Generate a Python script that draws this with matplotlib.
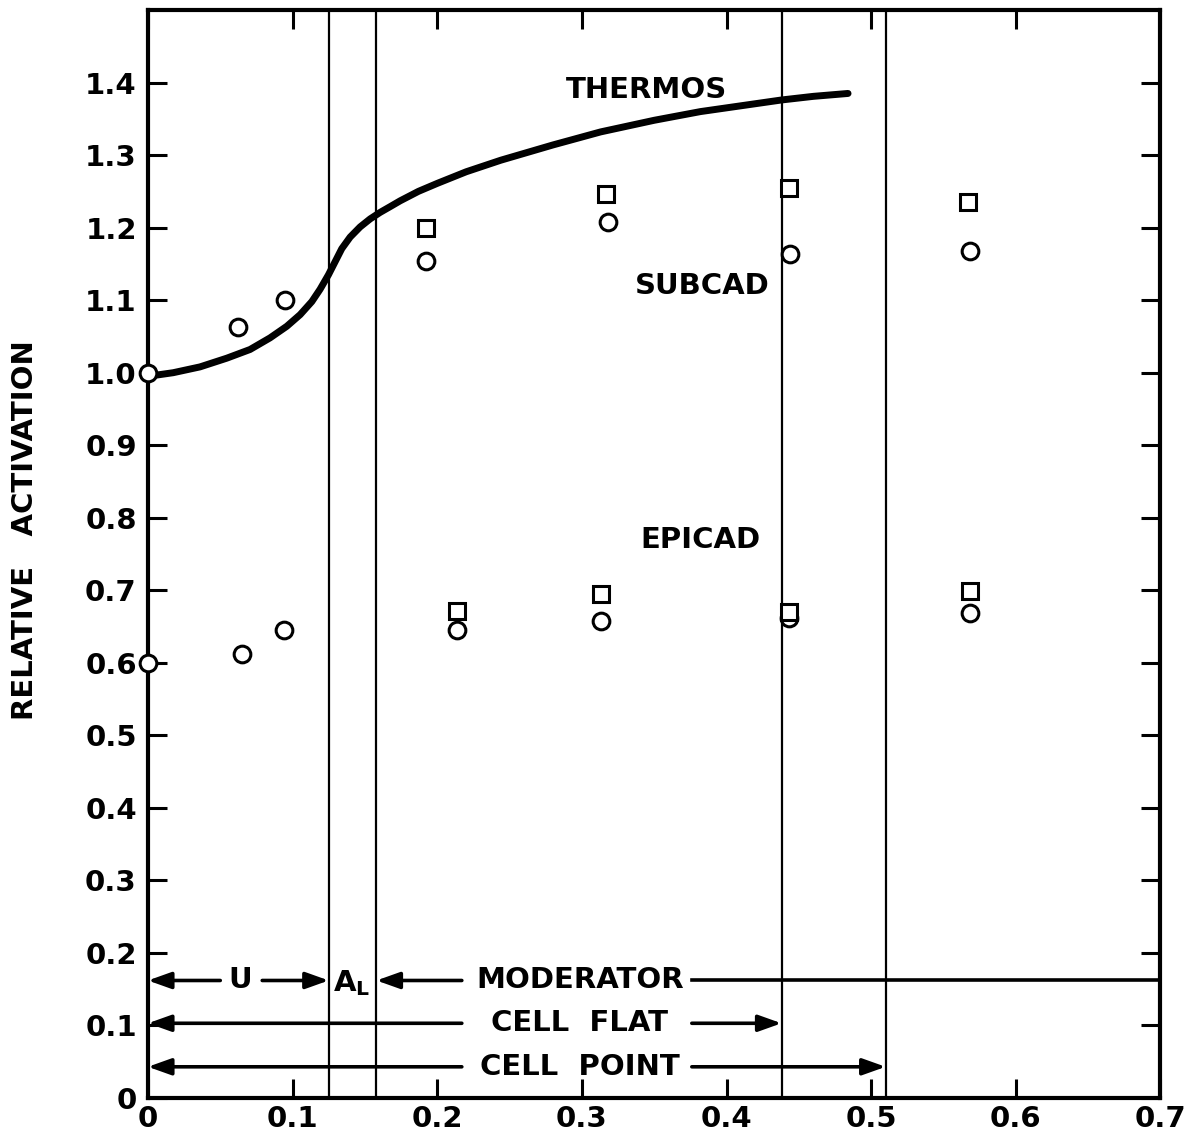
import matplotlib.pyplot as plt
import numpy as np

# THERMOS calculation
thermos_x = [0.0, 0.0175, 0.036, 0.0545, 0.0706, 0.0844, 0.096, 0.1052, 0.1133, 0.119,
             0.1248, 0.1294, 0.134, 0.1398, 0.1467, 0.1536, 0.1605, 0.1675, 0.1744,
             0.187, 0.200, 0.220, 0.244, 0.280, 0.313, 0.350, 0.382, 0.410, 0.438,
             0.460, 0.484]
thermos_y = [0.995, 1.000, 1.008, 1.020, 1.032, 1.048, 1.064, 1.080, 1.098, 1.115,
             1.135, 1.153, 1.171, 1.187, 1.201, 1.212, 1.221, 1.229, 1.237,
             1.250, 1.261, 1.277, 1.293, 1.314, 1.332, 1.348, 1.360, 1.368, 1.376,
             1.381, 1.385]

# subcadmium activation
sub_circ_x = [0.0, 0.062, 0.095, 0.192, 0.318, 0.444, 0.568]
sub_circ_y = [1.00, 1.063, 1.100, 1.154, 1.208, 1.163, 1.168]
sub_sq_x = [0.192, 0.317, 0.443, 0.567]
sub_sq_y = [1.200, 1.247, 1.255, 1.236]

# epicadmium activation
epi_circ_x = [0.0, 0.065, 0.094, 0.214, 0.313, 0.443, 0.568]
epi_circ_y = [0.600, 0.612, 0.645, 0.645, 0.657, 0.662, 0.668]
epi_sq_x = [0.214, 0.313, 0.443, 0.568]
epi_sq_y = [0.672, 0.695, 0.670, 0.699]

# region boundaries
boundaries = [0.125, 0.158, 0.438, 0.51]

xticks = [0, 0.1, 0.2, 0.3, 0.4, 0.5, 0.6, 0.7]
xtick_labels = ["0", "0.1", "0.2", "0.3", "0.4", "0.5", "0.6", "0.7"]
yticks = [0, 0.1, 0.2, 0.3, 0.4, 0.5, 0.6, 0.7, 0.8, 0.9, 1.0, 1.1, 1.2, 1.3, 1.4]
ytick_labels = ["0", "0.1", "0.2", "0.3", "0.4", "0.5", "0.6", "0.7", "0.8", "0.9",
                "1.0", "1.1", "1.2", "1.3", "1.4"]

plt.rcParams['font.family'] = ['DejaVu Sans']
plt.rcParams['font.weight'] = 'bold'

fig = plt.figure(figsize=(11.96, 11.41), dpi=100)
ax = fig.add_axes([0.1237, 0.0377, 0.8466, 0.9535])
ax.set_xlim(0, 0.7)
ax.set_ylim(0, 1.5)

for s in ax.spines.values():
    s.set_linewidth(3)

ax.set_xticks(xticks)
ax.set_xticklabels(xtick_labels)
ax.set_yticks(yticks)
ax.set_yticklabels(ytick_labels)
ax.tick_params(direction='in', length=14, width=2.2, labelsize=21, pad=8,
               top=True, right=True)
ax.tick_params(axis='x', pad=5)

# vertical region lines
for b in boundaries:
    ax.axvline(b, color='black', lw=1.6, zorder=1)

# THERMOS curve
ax.plot(thermos_x, thermos_y, color='black', lw=5, solid_capstyle='round',
        solid_joinstyle='round', zorder=2)

mk = dict(linestyle='none', markerfacecolor='white', markeredgecolor='black',
          markeredgewidth=2.2, zorder=4, clip_on=False)
ax.plot(sub_circ_x, sub_circ_y, marker='o', markersize=12, **mk)
ax.plot(epi_circ_x, epi_circ_y, marker='o', markersize=12, **mk)
ax.plot(sub_sq_x, sub_sq_y, marker='s', markersize=11, **mk)
ax.plot(epi_sq_x, epi_sq_y, marker='s', markersize=11, **mk)

tk = dict(fontsize=21, fontweight='bold', ha='center', va='center')
ax.text(0.345, 1.39, "THERMOS", **tk)
ax.text(0.383, 1.12, "SUBCAD", **tk)
ax.text(0.382, 0.77, "EPICAD", **tk)

# region arrows
arr = dict(arrowstyle='-|>,head_length=1.4,head_width=0.5', color='black',
           lw=2.6, shrinkA=0, shrinkB=0)
row1, row2, row3 = 0.162, 0.103, 0.043

ax.annotate("", xy=(0, row1), xytext=(0.05, row1), arrowprops=arr)
ax.text(0.064, row1, "U", **tk)
ax.annotate("", xy=(0.125, row1), xytext=(0.079, row1), arrowprops=arr)
ax.text(0.141, row1 - 0.003, r"A$_\mathregular{L}$", **tk)
ax.annotate("", xy=(0.158, row1), xytext=(0.217, row1), arrowprops=arr)
ax.text(0.2985, row1, "MODERATOR", **tk)
ax.plot([0.376, 0.7], [row1, row1], color='black', lw=2.6)

ax.annotate("", xy=(0, row2), xytext=(0.217, row2), arrowprops=arr)
ax.text(0.2985, row2, "CELL  FLAT", **tk)
ax.annotate("", xy=(0.438, row2), xytext=(0.376, row2), arrowprops=arr)

ax.annotate("", xy=(0, row3), xytext=(0.217, row3), arrowprops=arr)
ax.text(0.2985, row3, "CELL  POINT", **tk)
ax.annotate("", xy=(0.51, row3), xytext=(0.376, row3), arrowprops=arr)

fig.text(0.021, 0.535, "RELATIVE   ACTIVATION", rotation=90, fontsize=21,
         fontweight='bold', ha='center', va='center')

fig.savefig("out.png", dpi=100)
